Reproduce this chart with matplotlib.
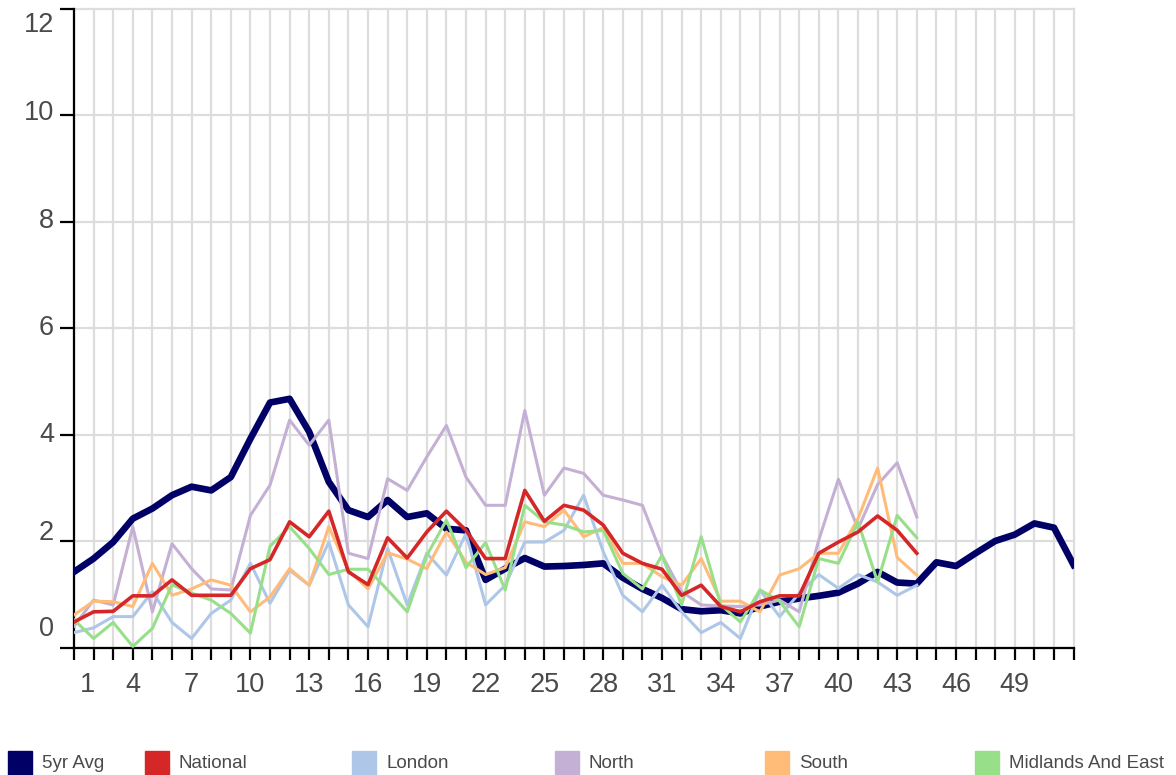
import numpy as np
import matplotlib
matplotlib.use("Agg")
import matplotlib.pyplot as plt
from matplotlib.patches import Rectangle

#%% Data

weeks = np.arange(1, 53)
region_weeks = np.arange(1, 45)

avg_5yr = [1.42, 1.67, 1.98, 2.42, 2.61, 2.86, 3.02, 2.95, 3.2, 3.92,
           4.6, 4.67, 4.05, 3.11, 2.58, 2.45, 2.77, 2.45, 2.52, 2.23,
           2.2, 1.27, 1.48, 1.68, 1.52, 1.53, 1.55, 1.58, 1.31, 1.1,
           0.93, 0.72, 0.68, 0.7, 0.64, 0.77, 0.86, 0.92, 0.97, 1.03,
           1.2, 1.42, 1.22, 1.2, 1.6, 1.53, 1.77, 2.0, 2.12, 2.33,
           2.25, 1.55]

national = [0.48, 0.67, 0.68, 0.97, 0.97, 1.27, 0.98, 0.98, 0.98, 1.48,
            1.65, 2.36, 2.08, 2.56, 1.42, 1.18, 2.06, 1.68, 2.17, 2.56,
            2.2, 1.67, 1.67, 2.95, 2.37, 2.67, 2.58, 2.3, 1.77, 1.58,
            1.47, 0.98, 1.17, 0.77, 0.67, 0.86, 0.97, 0.97, 1.77, 1.98,
            2.17, 2.47, 2.2, 1.77]

london = [0.28, 0.37, 0.58, 0.58, 1.05, 0.47, 0.17, 0.64, 0.89, 1.58,
          0.83, 1.45, 1.17, 1.98, 0.8, 0.39, 1.86, 0.8, 1.77, 1.36,
          2.14, 0.8, 1.17, 1.98, 1.98, 2.2, 2.86, 1.8, 0.98, 0.67,
          1.17, 0.67, 0.28, 0.47, 0.17, 1.08, 0.58, 1.02, 1.37, 1.11,
          1.37, 1.23, 0.98, 1.17]

north = [0.4, 0.89, 0.8, 2.27, 0.67, 1.95, 1.48, 1.1, 1.08, 2.48,
         3.05, 4.27, 3.8, 4.27, 1.77, 1.67, 3.17, 2.95, 3.58, 4.17,
         3.2, 2.67, 2.67, 4.45, 2.86, 3.37, 3.27, 2.86, 2.77, 2.67,
         1.73, 1.05, 0.8, 0.78, 0.77, 0.8, 0.89, 0.67, 2.02, 3.16,
         2.23, 3.06, 3.47, 2.45]

south = [0.61, 0.87, 0.86, 0.77, 1.58, 0.98, 1.1, 1.27, 1.17, 0.67,
         0.95, 1.48, 1.17, 2.27, 1.45, 1.1, 1.78, 1.66, 1.48, 2.17,
         1.6, 1.37, 1.5, 2.36, 2.27, 2.58, 2.08, 2.25, 1.58, 1.58,
         1.33, 1.17, 1.67, 0.87, 0.87, 0.67, 1.36, 1.48, 1.77, 1.77,
         2.42, 3.37, 1.69, 1.36]

midlands = [0.52, 0.17, 0.47, 0.02, 0.36, 1.18, 1.02, 0.89, 0.64, 0.27,
            1.9, 2.27, 1.86, 1.37, 1.47, 1.47, 1.08, 0.67, 1.73, 2.39,
            1.5, 1.97, 1.08, 2.67, 2.36, 2.3, 2.17, 2.2, 1.39, 1.1,
            1.73, 0.8, 2.08, 0.8, 0.48, 1.08, 0.87, 0.39, 1.67, 1.58,
            2.36, 1.23, 2.48, 2.06]

series_names = ["5yr Avg", "National", "London", "North", "South", "Midlands And East"]
colors = ["#000066", "#d62728", "#aec7e8", "#c5b0d5", "#ffbb78", "#98df8a"]

y_ticks = [0, 2, 4, 6, 8, 10, 12]
x_label_weeks = list(range(1, 50, 3))

#%% Figure

plt.rcParams['font.family'] = ['Liberation Sans', 'DejaVu Sans']

W, H = 1176, 775
fig = plt.figure(figsize=(W / 100, H / 100), dpi=100)
ax = fig.add_axes([74 / W, 1 - 647.5 / H, (1073.6 - 74) / W, (647.5 - 8.5) / H])

ax.plot(weeks, avg_5yr, color=colors[0], lw=4.8, zorder=3)
regions = [london, north, south, midlands]
for vals, c in zip(regions, colors[2:]):
    ax.plot(region_weeks, vals, color=c, lw=2.2, zorder=3)
ax.plot(region_weeks, national, color=colors[1], lw=2.6, zorder=4)

ax.set_xlim(1, 52)
ax.set_ylim(0, 12)

for s in ["top", "right"]:
    ax.spines[s].set_visible(False)
for s in ["left", "bottom"]:
    ax.spines[s].set_linewidth(1.6)
    ax.spines[s].set_color("black")

ax.set_xticks(weeks)
ax.set_yticks(y_ticks)
ax.tick_params(axis="x", length=8.6, width=1.6, color="black", labelbottom=False)
ax.tick_params(axis="y", length=10, width=1.6, color="black", labelleft=False)

ax.set_axisbelow(True)
ax.grid(True, color="#dddddd", lw=1.6)
for gl in ax.get_xgridlines() + ax.get_ygridlines():
    gl.set_clip_on(False)

# y labels (slightly shifted like in the original rendering)
y_label_shift = [19, 8, 0, 0, 0, 2, -17]
for v, dy in zip(y_ticks, y_label_shift):
    ax.annotate(str(v), xy=(0, v), xycoords=("axes fraction", "data"),
                xytext=(-20, dy), textcoords="offset pixels",
                ha="right", va="center", fontsize=19.5, color="#4a4a4a")

# x labels
for w in x_label_weeks:
    dx = 13 if w == 1 else 0
    ax.annotate(str(w), xy=(w, 0), xycoords=("data", "axes fraction"),
                xytext=(dx, -37), textcoords="offset pixels",
                ha="center", va="center", fontsize=19.5, color="#4a4a4a")

# legend
legend_x = [8, 145, 352, 555, 765, 975]
for name, c, lx in zip(series_names, colors, legend_x):
    fig.add_artist(Rectangle((lx / W, 0), 24 / W, 24 / H, transform=fig.transFigure,
                             color=c, clip_on=False))
    fig.text((lx + 34) / W, 1 - 763 / H, name, ha="left", va="center",
             fontsize=13.5, color="#4a4a4a")

fig.savefig("out.png", dpi=100)
